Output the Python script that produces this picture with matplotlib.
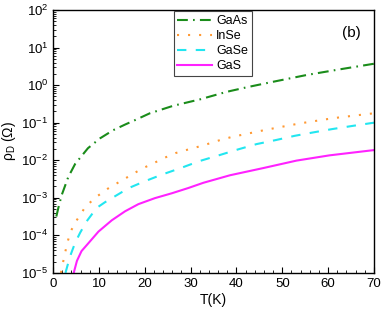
import numpy as np
import matplotlib
matplotlib.use("Agg")
import matplotlib.pyplot as plt
from matplotlib.ticker import MultipleLocator, LogLocator, NullFormatter

plt.rcParams['font.family'] = ['Liberation Sans', 'DejaVu Sans']
plt.rcParams['mathtext.default'] = 'regular'

# values (log10 of rho_D)
T_gaas = [0.7, 1.3, 1.9, 3.3, 4.8, 7.6, 10.2, 13.1, 15.7, 17.9, 21.1, 26.2, 32.0, 37.8, 42.5, 48.0, 55.3, 62.5, 70.0]
lg_gaas = [-3.50, -3.19, -2.92, -2.45, -2.10, -1.68, -1.42, -1.20, -1.05, -0.93, -0.75, -0.55, -0.38, -0.18, -0.05, 0.09, 0.27, 0.42, 0.57]

T_inse = [1.7, 2.1, 2.6, 3.2, 3.8, 5.2, 7.1, 9.5, 11.9, 14.4, 16.8, 19.3, 21.9, 24.4, 26.7, 29.3,
          31.7, 34.2, 36.5, 39.0, 46.4, 53.8, 61.1, 68.5, 70.0]
lg_inse = [-5.0, -4.76, -4.47, -4.16, -3.90, -3.59, -3.23, -2.97, -2.76, -2.58, -2.41, -2.23, -2.08, -1.93, -1.81, -1.72,
           -1.64, -1.55, -1.46, -1.38, -1.19, -1.02, -0.88, -0.77, -0.75]

T_gase = [2.7, 3.7, 4.8, 5.9, 7.3, 9.5, 11.3, 15.0, 17.1, 19.8, 23.8, 27.8, 32.0, 36.4, 40.4,
          44.4, 48.7, 52.7, 56.7, 60.9, 65.1, 70.0]
lg_gase = [-5.0, -4.56, -4.20, -3.93, -3.63, -3.27, -3.12, -2.85, -2.71, -2.57, -2.38, -2.21, -2.02, -1.86, -1.71,
           -1.57, -1.46, -1.35, -1.26, -1.17, -1.09, -1.00]

T_gas = [4.5, 5.2, 6.2, 7.7, 9.9, 12.8, 15.7, 18.6, 22.2, 25.9, 29.5, 32.8, 38.6, 45.8, 53.1, 60.3, 70.0]
lg_gas = [-5.0, -4.68, -4.42, -4.21, -3.90, -3.60, -3.36, -3.17, -3.01, -2.88, -2.74, -2.60, -2.40, -2.21, -2.01, -1.87, -1.73]

fig = plt.figure(figsize=(3.82, 3.14), dpi=100)
ax = fig.add_axes([0.139, 0.131, 0.840, 0.837])

lw = 1.5
ax.plot(T_gaas, 10 ** np.array(lg_gaas), color='#1a8c1a', lw=lw, dashes=(5.2, 2.5, 0.8, 2.5), label='GaAs')
ax.plot(T_inse, 10 ** np.array(lg_inse), color='#ff9933', lw=lw, dashes=(1.0, 4.3), label='InSe')
ax.plot(T_gase, 10 ** np.array(lg_gase), color='#22e6f0', lw=lw, dashes=(4.5, 4.5), label='GaSe')
ax.plot(T_gas, 10 ** np.array(lg_gas), color='#ff22ff', lw=lw, label='GaS')

ax.set_yscale('log')
ax.set_xlim(0, 70)
ax.set_ylim(1e-5, 1e2)
ax.xaxis.set_major_locator(MultipleLocator(10))
ax.xaxis.set_minor_locator(MultipleLocator(2))
ax.yaxis.set_major_locator(LogLocator(base=10, numticks=20))
ax.yaxis.set_minor_locator(LogLocator(base=10, subs=np.arange(2, 10), numticks=20))
ax.yaxis.set_minor_formatter(NullFormatter())
ax.tick_params(which='both', direction='in', top=False, right=False, labelsize=9.5)
ax.tick_params(which='major', length=4)
ax.tick_params(which='minor', length=2.5)
for s in ax.spines.values():
    s.set_linewidth(1.0)

ax.set_xlabel('T(K)', fontsize=10, labelpad=2)
ax.set_ylabel('ρ$_D$ (Ω)', fontsize=10, labelpad=2)
ax.text(0.96, 0.94, '(b)', transform=ax.transAxes, ha='right', va='top', fontsize=11)

leg = ax.legend(loc='upper left', bbox_to_anchor=(0.372, 1.0), fontsize=9,
                handlelength=2.8, handletextpad=0.3, labelspacing=0.25,
                borderpad=0.3, borderaxespad=0.1, fancybox=False, framealpha=1)
leg.get_frame().set_edgecolor('#444444')
leg.get_frame().set_linewidth(0.8)

fig.savefig('out.png', dpi=100)
